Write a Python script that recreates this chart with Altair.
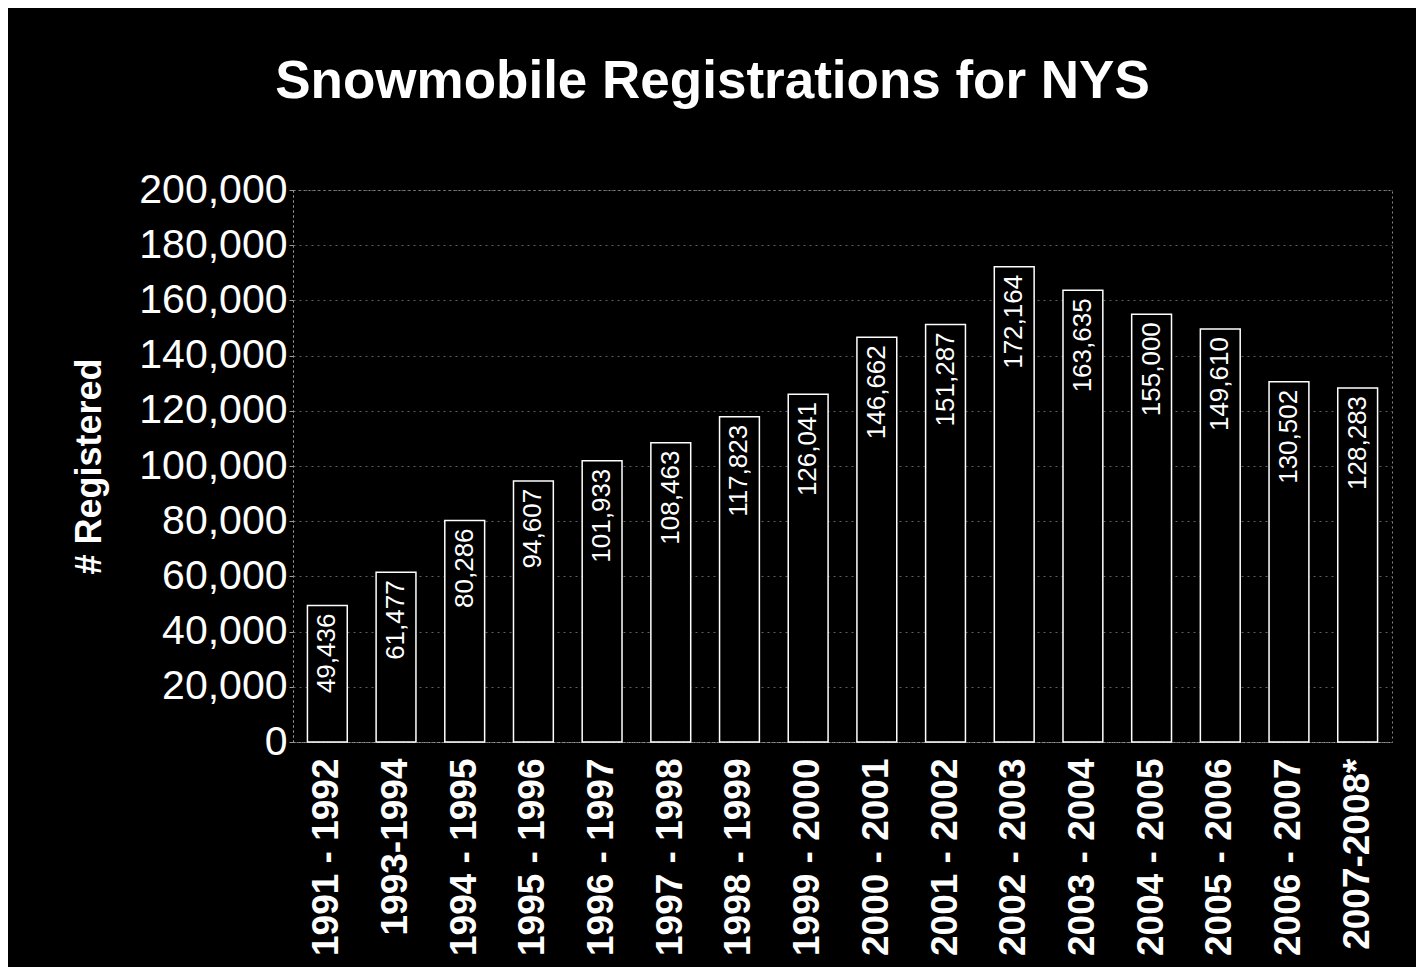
import altair as alt
import pandas as pd

seasons = ["1991 - 1992", "1993-1994", "1994 - 1995", "1995 - 1996", "1996 - 1997",
           "1997 - 1998", "1998 - 1999", "1999 - 2000", "2000 - 2001", "2001 - 2002",
           "2002 - 2003", "2003 - 2004", "2004 - 2005", "2005 - 2006", "2006 - 2007",
           "2007-2008*"]
registered = [49436, 61477, 80286, 94607, 101933, 108463, 117823, 126041, 146662,
              151287, 172164, 163635, 155000, 149610, 130502, 128283]
y_ticks = [0, 20000, 40000, 60000, 80000, 100000, 120000, 140000, 160000, 180000, 200000]

df = pd.DataFrame({"season": seasons, "registered": registered})
FONT = "Liberation Sans"

x = alt.X("season:N", sort=seasons,
          scale=alt.Scale(paddingInner=0.42, paddingOuter=0.21),
          axis=alt.Axis(title=None, labelAngle=270, labelFontSize=37, labelFontWeight="bold",
                        labelColor="white", labelFont=FONT, labelPadding=16, ticks=False,
                        domainColor="#999999", domainDash=[2, 3], labelLimit=400))
y = alt.Y("registered:Q", scale=alt.Scale(domain=[0, 200000], nice=False),
          axis=alt.Axis(values=y_ticks, format=",.0f", labelFontSize=41, labelColor="white",
                        labelFont=FONT, tickSize=4, tickColor="#999999", labelPadding=2,
                        grid=True, gridColor="#777777", gridDash=[2, 4], gridOpacity=0.8,
                        title="# Registered", titleFontSize=36, titleFontWeight="bold",
                        titleColor="white", titleFont=FONT, titlePadding=30,
                        domainColor="#999999", domainDash=[2, 3]))

bars = alt.Chart(df).mark_bar(fill="black", stroke="white", strokeWidth=1.5).encode(x=x, y=y)
labels = alt.Chart(df).mark_text(angle=270, align="right", baseline="middle", dx=-8,
                                 color="white", fontSize=26, font=FONT).encode(
    x=x, y=y, text=alt.Text("registered:Q", format=",.0f"))

chart = alt.layer(bars, labels).properties(
    width=1099, height=552,
    title=alt.Title("Snowmobile Registrations for NYS", fontSize=53, font=FONT,
                    fontWeight="bold", color="white", anchor="middle", frame="group",
                    dx=-130, offset=60),
    autosize=alt.AutoSizeParams(type="none"),
    padding={"left": 285, "top": 182, "right": 24, "bottom": 225},
    background="black",
).configure_view(stroke="#888888", strokeDash=[2, 3], strokeWidth=1)

chart.save("out.html", embed_options={"renderer": "svg", "actions": False})
